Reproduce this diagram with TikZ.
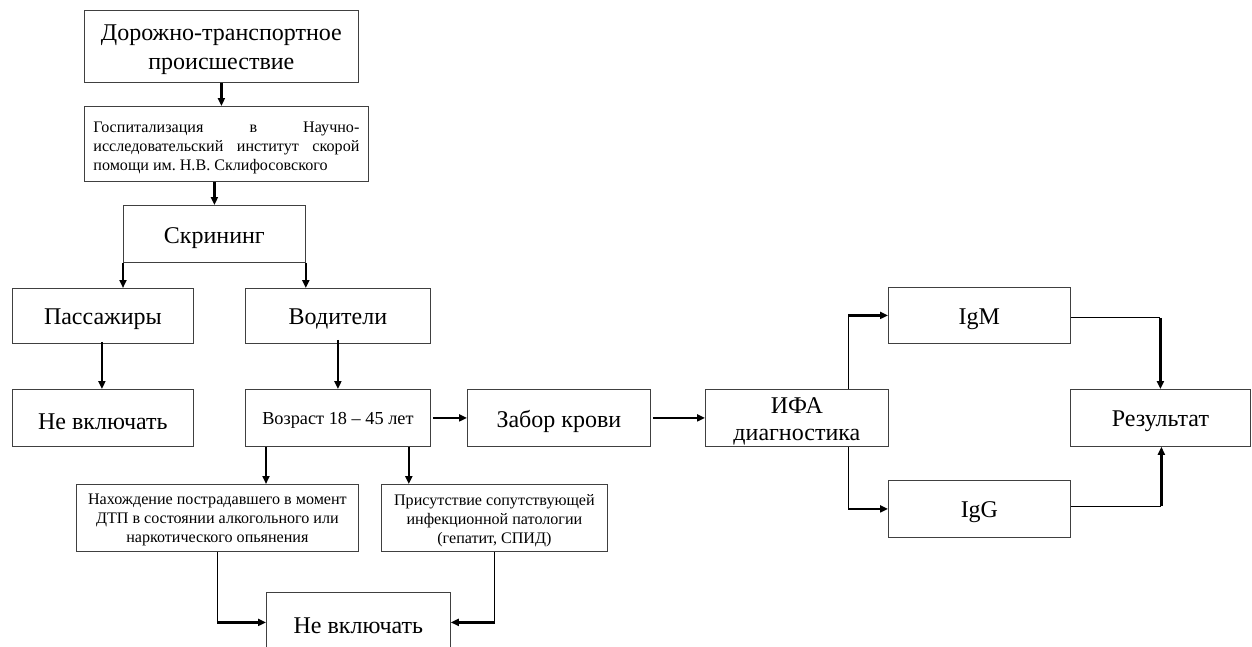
\documentclass[tikz,border=0pt]{standalone}
\usepackage{fontspec}
\setmainfont{Liberation Serif}
\usetikzlibrary{arrows.meta}
\tikzset{
  box/.style={draw=black!75, line width=0.8pt, anchor=north west, inner sep=0pt},
  txt/.style={inner sep=0pt, align=center},
  big/.style={font=\fontsize{24}{29}\selectfont},
  mid/.style={font=\fontsize{18.3}{22}\selectfont},
  small/.style={font=\fontsize{16.1}{19}\selectfont},
  arr/.style={line width=2.2pt, -{Triangle[length=8pt,width=7pt]}},
  thinline/.style={line width=1pt},
}
% name, x1, y1, x2, y2, text, style, text shift down
\newcommand{\bx}[8]{\node[box, minimum width={#4-#2}, minimum height={#5-#3}] (#1) at (#2,#3) {};
  \node[txt,#7] (#1-t) at ([yshift=-#8pt]#1.center) {#6};}
\begin{document}
\begin{tikzpicture}[x=1pt,y=-1pt]
\clip (0,0) rectangle (1252,646);
\useasboundingbox (0,0) rectangle (1252,646);
\bx{dtp}{84}{10}{358}{82}{Дорожно-транспортное\\происшествие}{big}{3.5}
\bx{hosp}{84}{106}{368}{181}{\parbox{266pt}{\hbox to 266pt{Госпитализация\hfill в\hfill Научно-}\hbox to 266pt{исследовательский\hfill институт\hfill скорой}\hbox to 266pt{помощи им.\ Н.В. Склифосовского\hfill}}}{small}{4}
\bx{scr}{123}{205}{305}{262}{Скрининг}{big}{4}
\bx{pass}{12}{288}{193}{343}{Пассажиры}{big}{3.5}
\bx{drv}{245}{288}{430}{343}{Водители}{big}{3.5}
\bx{nv1}{12}{389}{193}{446}{Не включать}{big}{3.5}
\bx{age}{245}{389}{430}{446}{Возраст 18 – 45 лет}{mid}{2.5}
\bx{blood}{467}{389}{650}{446}{Забор крови}{big}{3.5}
\bx{ifa}{705}{389}{888}{446}{ИФА\\диагностика}{font=\fontsize{24}{27}\selectfont}{3}
\bx{igm}{888}{287}{1070}{343}{IgM}{big}{4}
\bx{igg}{888}{480}{1070}{537}{IgG}{big}{3.5}
\bx{res}{1070}{389}{1250}{446}{Результат}{big}{3.5}
\bx{alc}{76}{484}{358}{551}{Нахождение пострадавшего в момент\\ДТП в состоянии алкогольного или\\наркотического опьянения}{small}{2.5}
\bx{inf}{381}{484}{607}{551}{Присутствие сопутствующей\\инфекционной патологии\\(гепатит, СПИД)}{small}{2.5}
\bx{nv2}{266}{592}{450}{652}{Не включать}{big}{3}
% arrows
\draw[arr] (dtp.south) -- (hosp.north -| dtp.south);
\draw[arr] (hosp.south -| scr.north) -- (scr.north);
\draw[arr] (scr.south west) -- (scr.south west |- pass.north);
\draw[arr] (scr.south east) -- (scr.south east |- drv.north);
\draw[arr] ([xshift=-1pt,yshift=2pt]pass.south) -- ([xshift=-1pt]nv1.north);
\draw[arr] ([yshift=4pt]drv.south) -- (age.north);
\draw[arr] ([xshift=2pt]age.east) -- (blood.west);
\draw[arr] ([xshift=2pt]blood.east) -- (ifa.west);
\path ([xshift=21pt]age.south west) coordinate (a1) ([xshift=-22pt]age.south east) coordinate (a2);
\draw[arr] (a1) -- (a1 |- alc.north);
\draw[arr] (a2) -- (a2 |- inf.north);
% bottom elbows
\path (alc.south) coordinate (b1) (inf.south) coordinate (b2);
\path (b1 |- nv2.west) coordinate (b1c) (b2 |- nv2.east) coordinate (b2c);
\draw[thinline] (b1) -- (b1c);
\draw[arr] ([xshift=-0.5pt]b1c) -- (nv2.west);
\draw[thinline] (b2) -- (b2c);
\draw[arr] ([xshift=0.5pt]b2c) -- (nv2.east);
% IFA elbows
\path ([xshift=-40pt]ifa.north east) coordinate (f1) ([xshift=-40pt]ifa.south east) coordinate (f2);
\path (f1 |- igm.west) coordinate (f1c) (f2 |- igg.west) coordinate (f2c);
\draw[thinline] (f1) -- (f1c);
\draw[arr] ([xshift=-0.5pt]f1c) -- (igm.west);
\draw[thinline] (f2) -- (f2c);
\draw[arr] ([xshift=-0.5pt]f2c) -- (igg.west);
% result elbows
\path ([yshift=-2pt]igm.east) coordinate (m1) ([yshift=2pt]igg.east) coordinate (g1);
\path (m1 -| res.north) coordinate (m1c) (g1 -| res.south) coordinate (g1c);
\draw[thinline] (m1) -- (m1c);
\draw[arr] ([yshift=-0.5pt]m1c) -- (res.north);
\draw[thinline] (g1) -- ([xshift=1pt]g1c);
\draw[arr] ([xshift=1pt,yshift=0.5pt]g1c) -- ([xshift=1pt]res.south);
\end{tikzpicture}
\end{document}
